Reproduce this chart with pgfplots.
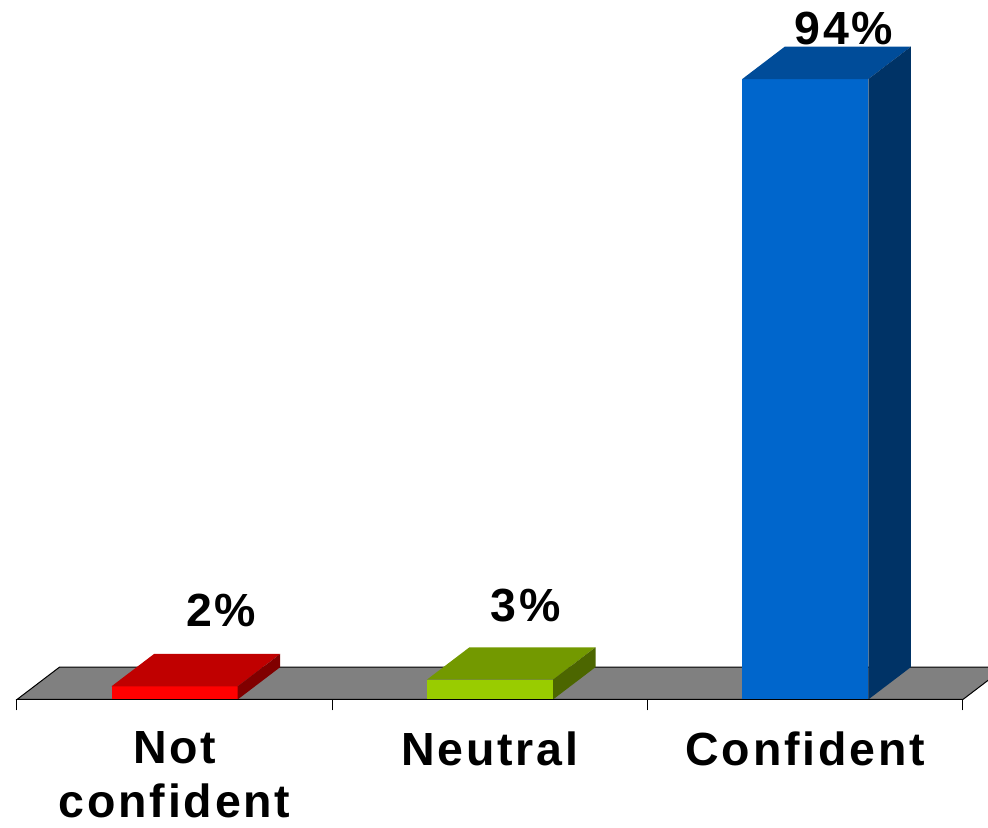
\documentclass[border=0pt]{standalone}
\usepackage{pgfplots}
\pgfplotsset{compat=1.18}
\usepackage{fontspec}
\setmainfont{Liberation Sans}[LetterSpace=6]

\definecolor{floorgray}{HTML}{808080}
\definecolor{redfront}{HTML}{FF0000}
\definecolor{redtop}{HTML}{C00000}
\definecolor{redside}{HTML}{800000}
\definecolor{greenfront}{HTML}{99CC00}
\definecolor{greentop}{HTML}{739900}
\definecolor{greenside}{HTML}{4C6600}
\definecolor{bluefront}{HTML}{0066CC}
\definecolor{bluetop}{HTML}{004C99}
\definecolor{blueside}{HTML}{003366}

\tikzset{lbl/.style={font=\fontsize{46.5bp}{54bp}\selectfont\bfseries, inner sep=0pt}}

% depth offset of the 3D boxes (axis units) and half bar width
\def\dx{0.1348}
\def\dy{4.9}
\def\bw{0.2}

% one 3D bar: #1 category position, #2 value, #3-#5 face colours, #6 label shifts
\newcommand\barthreed[6]{%
  \pgfmathsetmacro\xa{#1-\bw}%
  \pgfmathsetmacro\xb{#1+\bw}%
  \pgfmathsetmacro\xc{#1-\bw+\dx}%
  \pgfmathsetmacro\xd{#1+\bw+\dx}%
  \pgfmathsetmacro\vt{#2+\dy}%
  \pgfmathsetmacro\xm{#1+\dx}%
  \edef\doit{%
    \noexpand\addplot[fill=#3, draw=none] coordinates {(\xa,0) (\xb,0) (\xb,#2) (\xa,#2)} -- cycle;%
    \noexpand\addplot[fill=#4, draw=none] coordinates {(\xa,#2) (\xb,#2) (\xd,\vt) (\xc,\vt)} -- cycle;%
    \noexpand\addplot[fill=#5, draw=none] coordinates {(\xb,0) (\xd,\dy) (\xd,\vt) (\xb,#2)} -- cycle;%
    \noexpand\node[lbl, anchor=base, #6] at (axis cs:\xm,\vt) {#2\noexpand\%};%
  }\doit
}

\begin{document}
\begin{tikzpicture}
\begin{axis}[
  x=315.3bp, y=6.6bp,
  xmin=-0.5, xmax=2.5, ymin=0, ymax=100,
  axis x line*=bottom, axis y line=none,
  axis on top=true,
  xtick={-0.5,0.5,1.5,2.5}, xticklabels={},
  tick align=outside, major tick length=11bp,
  x axis line style={black, line width=1bp},
  tick style={black, line width=1bp},
  clip=false,
]
  % floor
  \pgfmathsetmacro\fl{-0.5+\dx}
  \pgfmathsetmacro\fr{2.5+\dx}
  \edef\dofloor{\noexpand\addplot[fill=floorgray, draw=black, line width=1bp]
    coordinates {(-0.5,0) (2.5,0) (\fr,\dy) (\fl,\dy)} -- cycle;}
  \dofloor

  % bars
  \barthreed{0}{2}{redfront}{redtop}{redside}{xshift=4bp, yshift=27.3bp}
  \barthreed{1}{3}{greenfront}{greentop}{greenside}{xshift=-7bp, yshift=25.7bp}
  \barthreed{2}{94}{bluefront}{bluetop}{blueside}{xshift=-4bp, yshift=1.8bp}

  % category labels
  \node[lbl, anchor=north, align=center, yshift=-32.2bp] at (axis cs:0,0) {Not\\confident};
  \node[lbl, anchor=north, align=center, yshift=-32.2bp] at (axis cs:1,0) {Neutral};
  \node[lbl, anchor=north, align=center, yshift=-32.2bp] at (axis cs:2,0) {Confident};

  \coordinate (bbl) at (axis cs:-0.5539,-19.47);
  \coordinate (btr) at (axis cs:2.5796,105.98);
\end{axis}
\pgfresetboundingbox
\path[use as bounding box] (bbl) rectangle (btr);
\end{tikzpicture}
\end{document}
